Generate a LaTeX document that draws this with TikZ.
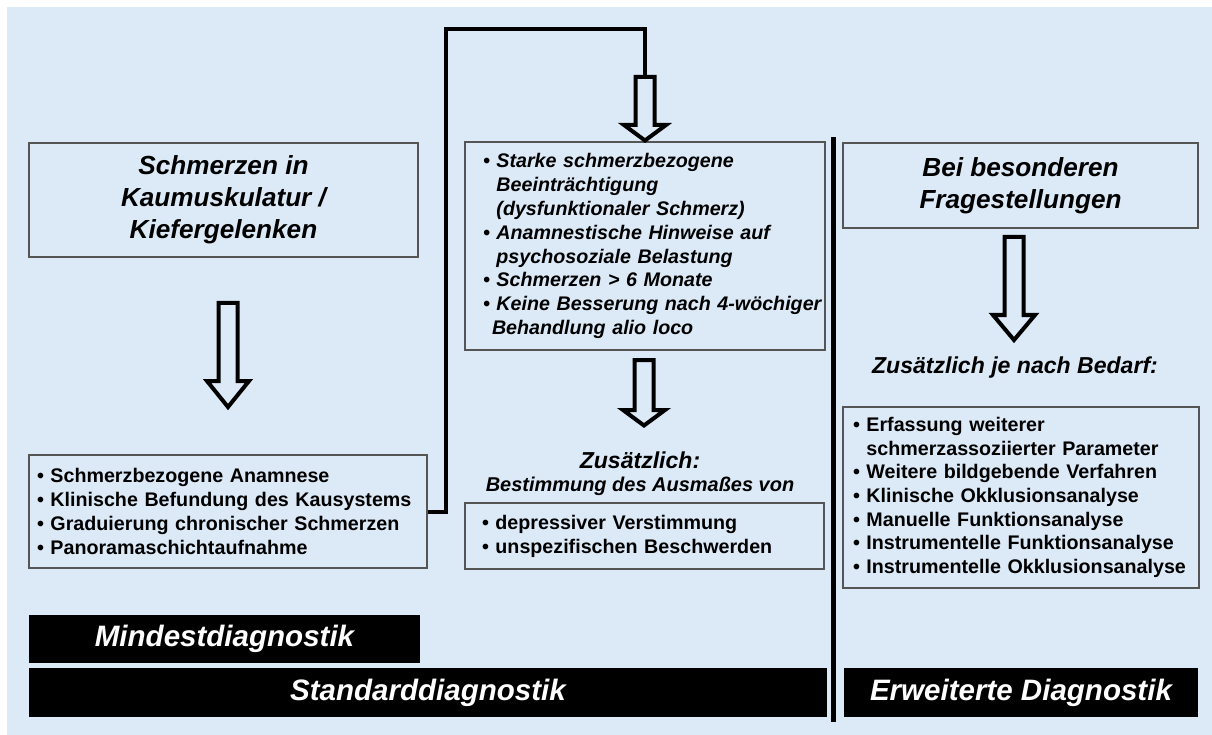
\documentclass[tikz,border=0pt]{standalone}
\usepackage{fontspec}
\setmainfont{Liberation Sans}
\usepackage{xcolor}
\usetikzlibrary{calc}
\definecolor{hellblau}{RGB}{220,234,247}
\definecolor{rahmen}{RGB}{85,85,85}
\newlength\px
\setlength\px{0.025cm}
\newcommand*\pkt[1]{\mbox{\textbullet\ #1}}
\newcommand*\weiter[1]{\mbox{\hphantom{\textbullet\ }#1}}
% hollow block arrow: x, top, head start, tip
\newcommand*\hohlpfeil[4]{
  \draw[pfeil] (#1-9.5,#2) -- (#1+9.5,#2) -- (#1+9.5,#3) -- (#1+21,#3)
    -- (#1,#4) -- (#1-21,#3) -- (#1-9.5,#3) -- cycle;}
\tikzset{
  kasten/.style={draw=rahmen,line width=1.3\px},
  kopf/.style={kasten,align=center,inner sep=0pt,
    font=\fontsize{18.6}{22.6}\selectfont\bfseries\itshape},
  liste/.style={kasten,align=left,inner ysep=0pt,
    font=\fontsize{14}{17}\selectfont\bfseries},
  listekursiv/.style={liste,font=\fontsize{14}{17}\selectfont\bfseries\itshape},
  hinweis/.style={inner sep=0pt,font=\fontsize{16.4}{20}\selectfont\bfseries\itshape},
  balken/.style={fill=black,text=white,inner sep=0pt,
    font=\fontsize{21}{25}\selectfont\bfseries\itshape},
  pfeil/.style={line width=4\px,line join=miter},
  verbinder/.style={line width=4\px,line join=miter},
  trenner/.style={line width=5\px}
}
\begin{document}
\begin{tikzpicture}[x=1\px,y=-1\px]
\useasboundingbox (0,0) rectangle (1212,735);
\fill[hellblau] (7,7) rectangle (1212,735);
%left column
\node[kopf,minimum width=389\px,minimum height=114\px] (schmerz) at (223.5,200)
  {Schmerzen in\\Kaumuskulatur /\\Kiefergelenken};
\hohlpfeil{228}{303}{381}{407}
\node[liste,text width=382\px,inner xsep=8\px,minimum height=113\px] (basis) at (228,511.5)
  {\pkt{Schmerzbezogene Anamnese}\\
   \pkt{Klinische Befundung des Kausystems}\\
   \pkt{Graduierung chronischer Schmerzen}\\
   \pkt{Panoramaschichtaufnahme}};
%middle column
\node[listekursiv,text width=324\px,inner xsep=18\px,minimum height=208\px] (belastung) at (645,246)
  {\pkt{Starke schmerzbezogene}\\
   \weiter{Beeinträchtigung}\\
   \weiter{(dysfunktionaler Schmerz)}\\
   \pkt{Anamnestische Hinweise auf}\\
   \weiter{psychosoziale Belastung}\\
   \pkt{Schmerzen > 6 Monate}\\
   \pkt{Keine Besserung nach 4-wöchiger}\\
   \mbox{\hspace{9\px}Behandlung alio loco}};
\coordinate (knick) at (446,29);
\coordinate (oben) at (645,77);
\draw[verbinder] (basis.east) -| (knick) -| (oben);
\hohlpfeil{645}{77}{125}{140.5}
\hohlpfeil{644}{360}{410}{425.5}
\node[hinweis] (zusatz) at (640,460) {Zusätzlich:};
\node[hinweis,font=\fontsize{14.2}{17}\selectfont\bfseries\itshape] (ausmass) at (640,486)
  {Bestimmung des Ausmaßes von};
\node[liste,text width=325\px,inner xsep=17\px,minimum height=66\px] (psyche) at (644.5,536)
  {\pkt{depressiver Verstimmung}\\
   \pkt{unspezifischen Beschwerden}};
%right column
\draw[trenner] (833,137) -- (833,722);
\node[kopf,minimum width=355\px,minimum height=85\px] (frage) at (1020.5,185.5)
  {Bei besonderen\\Fragestellungen};
\hohlpfeil{1014}{237}{315}{340}
\node[hinweis] (bedarf) at (1015,368) {Zusätzlich je nach Bedarf:};
\node[liste,text width=336\px,inner xsep=10\px,minimum height=181\px,
  font=\fontsize{14}{16.8}\selectfont\bfseries] (erweitert) at (1021,497.5)
  {\pkt{Erfassung weiterer}\\
   \weiter{schmerzassoziierter Parameter}\\
   \pkt{Weitere bildgebende Verfahren}\\
   \pkt{Klinische Okklusionsanalyse}\\
   \pkt{Manuelle Funktionsanalyse}\\
   \pkt{Instrumentelle Funktionsanalyse}\\
   \pkt{Instrumentelle Okklusionsanalyse}};
%bars
\node[balken,minimum width=391\px,minimum height=48\px] (mindest) at (224.5,639) {Mindestdiagnostik};
\node[balken,minimum width=798\px,minimum height=49\px] (standard) at (428,692.5) {Standarddiagnostik};
\node[balken,minimum width=354\px,minimum height=49\px] (erweitdiag) at (1021,692.5) {Erweiterte Diagnostik};
\end{tikzpicture}
\end{document}
